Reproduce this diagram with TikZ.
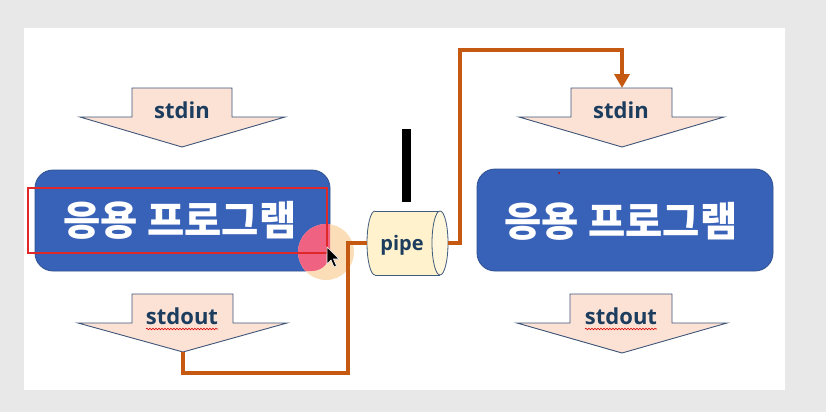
\documentclass[tikz,border=0pt]{standalone}
\usepackage{fontspec}
\newfontfamily\lat{Open Sans}
\newfontfamily\kr{Noto Sans CJK KR}
\usetikzlibrary{arrows.meta,decorations.pathmorphing}
\definecolor{bgray}{HTML}{E8E8E8}
\definecolor{boxblue}{HTML}{3861B8}
\definecolor{boxedge}{HTML}{2F528F}
\definecolor{peach}{HTML}{FBE2D5}
\definecolor{arrowedge}{HTML}{3F5578}
\definecolor{navy}{HTML}{1C3D5E}
\definecolor{flowcol}{HTML}{C65911}
\definecolor{pipefill}{HTML}{FFF2CC}
\definecolor{pipeedge}{HTML}{3E5A7C}
\definecolor{markred}{HTML}{E02828}
\definecolor{hlpeach}{HTML}{FBDDB8}
\definecolor{hlpink}{HTML}{F06282}
\begin{document}
\begin{tikzpicture}[x=1pt,y=-1pt,
  arrowshape/.style={fill=peach,draw=arrowedge,line width=0.9pt,line join=miter},
  appbox/.style={fill=boxblue,draw=boxedge,line width=0.8pt,rounded corners=18pt},
  lbl/.style={font=\lat\bfseries\fontsize{22}{26}\selectfont,text=navy,inner sep=0pt,anchor=base},
  apptext/.style={font=\kr\bfseries\fontsize{40.5}{46}\selectfont,text=white,inner sep=0pt,anchor=base},
  flow/.style={draw=flowcol,line width=4pt},
  pipeline/.style={draw=pipeedge,line width=0.8pt},
  spell/.style={draw=red!85!black,line width=0.6pt,decorate,decoration={snake,amplitude=0.8pt,segment length=3pt}}]
\useasboundingbox (0,0) rectangle (826,412);
\fill[bgray] (0,0) rectangle (826,412);
\fill[white] (24,28) rectangle (785,390);

% stdin / stdout block arrows
\draw[arrowshape] (132,88) -- (232,88) -- (232,117) -- (285,117) -- (182,147) coordinate (lintip) -- (80,117) -- (132,117) -- cycle;
\node[lbl] (lin) at (182,118) {stdin};
\draw[arrowshape] (132,294) -- (233,294) -- (233,323) -- (287,323) -- (183,352) coordinate (louttip) -- (78,323) -- (132,323) -- cycle;
\node[lbl] (lout) at (182,324) {stdout};
\draw[spell] (146,329) -- (218,329);

\draw[arrowshape] (571,88) -- (672,88) -- (672,117) -- (724,117) -- (622,147) coordinate (rintip) -- (519,117) -- (571,117) -- cycle;
\coordinate (rintop) at (622,88);
\node[lbl] (rin) at (621,118) {stdin};
\draw[arrowshape] (570,294) -- (672,294) -- (672,323) -- (727,323) -- (622,353) coordinate (routtip) -- (517,323) -- (570,323) -- cycle;
\node[lbl] (rout) at (621,324) {stdout};
\draw[spell] (585,329) -- (657,329);

% application boxes
\draw[appbox] (35,170) rectangle (330,271);
\node[apptext] (lapp) at (180,235) {응용 프로그램};
\draw[appbox] (477,169) rectangle (773,271);
\node[apptext] (rapp) at (621,236) {응용 프로그램};
\fill[red!80!black] (559,173) circle (1);

% cursor highlight
\fill[hlpeach] (326,252) circle (28);
\begin{scope}
  \clip[rounded corners=18pt] (35,170) rectangle (330,271);
  \fill[hlpink] (326,252) circle (28);
\end{scope}
\draw[markred,line width=2pt] (28,188) rectangle (327,253);

% pipe cylinder
\fill[pipefill] (375,211) rectangle (440,275);
\fill[pipefill] (375,243) ellipse [x radius=8, y radius=32];
\begin{scope}
  \clip (355,200) rectangle (375,290);
  \draw[pipeline] (375,243) ellipse [x radius=8, y radius=32];
\end{scope}
\draw[pipeline] (375,211) -- (440,211) (375,275) -- (440,275);
\filldraw[fill=pipefill!70!white,pipeline] (440,243) ellipse [x radius=8, y radius=32];
\node[inner sep=0pt,minimum width=81pt,minimum height=64pt] (pipe) at (407.5,243) {};
\node[lbl,font=\lat\bfseries\fontsize{20}{24}\selectfont] (pipelbl) at (402,250) {pipe};

% black bar
\fill[black] (402,129) rectangle (411,202);

% flow lines
\coordinate (c1) at (348,373);
\coordinate (c2) at (460,50);
\draw[flow] (louttip) |- (c1) |- (pipe.west);
\draw[flow,-{Triangle[length=14pt,width=15pt]}] (pipe.east) -| (c2) -| (rintop);

% mouse cursor
\filldraw[fill=black,draw=white,line width=0.6pt] (327,247) -- ++(0,17) -- ++(4,-4) -- ++(3,7) -- ++(2.5,-1) -- ++(-3,-7) -- ++(5.5,0) -- cycle;
\end{tikzpicture}
\end{document}
